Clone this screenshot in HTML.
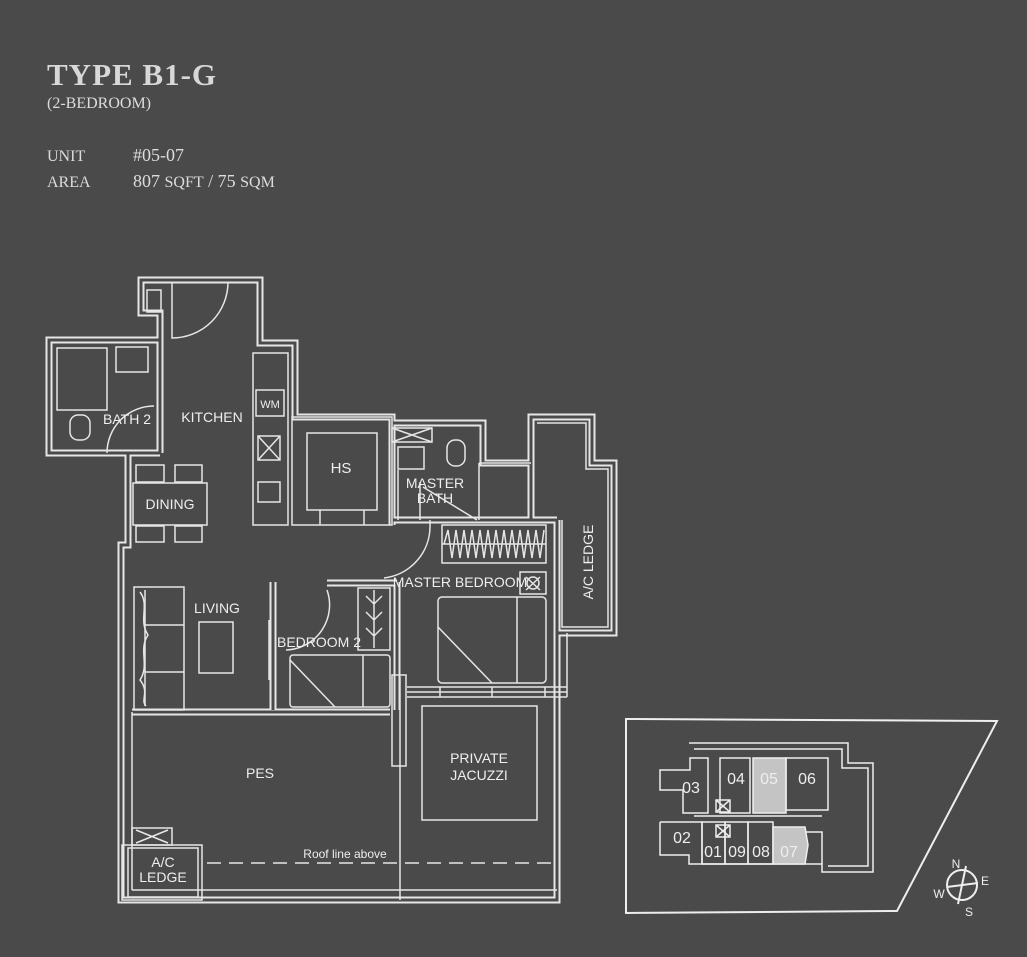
<!DOCTYPE html>
<html><head><meta charset="utf-8"><style>
html,body{margin:0;padding:0;background:#4a4a4a;}
body{width:1027px;height:957px;overflow:hidden;position:relative;}
.t{position:absolute;color:#dcdcdc;font-family:"Liberation Serif",serif;white-space:nowrap;}
svg{position:absolute;left:0;top:0;}
svg text{font-family:"Liberation Sans Narrow","Liberation Sans",sans-serif;fill:#eee;}
</style></head><body>
<div class="t" style="left:47px;top:57px;font-size:31px;letter-spacing:1px;font-weight:bold;color:#d8d8d8;">TYPE B1-G</div>
<div class="t" style="left:47px;top:95px;font-size:16px;">(2-BEDROOM)</div>
<div class="t" style="left:47px;top:148px;font-size:16px;">UNIT</div>
<div class="t" style="left:133px;top:145px;font-size:18px;">#05-07</div>
<div class="t" style="left:47px;top:174px;font-size:16px;">AREA</div>
<div class="t" style="left:133px;top:171px;font-size:18px;">807 <span style="font-size:16px">SQFT</span> / 75 <span style="font-size:16px">SQM</span></div>

<svg width="1027" height="957" viewBox="0 0 1027 957">
<g fill="none" stroke-linejoin="miter">
<g stroke="#e6e6e6" stroke-width="7">
 <path d="M141,280 L260,280 L260,343 L295,343 L295,417 L392,417 L392,423 L483,423 L483,463 L531,463 L531,417 L592,417 L592,463 L614,463 L614,633 L557,633 L557,900 L121,900 L121,545 L128,545 L128,453 L49,453 L49,340 L160,340 L160,313 L141,313 Z"/>
 <path d="M160,340 L160,453 M128,453 L160,453"/>
 <path d="M557,633 L557,520 M392,520 L557,520 M392,417 L392,525"/>
 <path d="M273,582 L273,710 M397,582 L397,710 M327,583 L397,583"/>
 <path d="M132,712 L390,712"/>
 <path d="M531,463 L531,520"/>
</g>
<g stroke="#4a4a4a" stroke-width="3">
 <path d="M141,280 L260,280 L260,343 L295,343 L295,417 L392,417 L392,423 L483,423 L483,463 L531,463 L531,417 L592,417 L592,463 L614,463 L614,633 L557,633 L557,900 L121,900 L121,545 L128,545 L128,453 L49,453 L49,340 L160,340 L160,313 L141,313 Z"/>
 <path d="M160,340 L160,453 M128,453 L160,453"/>
 <path d="M557,633 L557,520 M392,520 L557,520 M392,417 L392,525"/>
 <path d="M273,582 L273,710 M397,582 L397,710 M327,583 L397,583"/>
 <path d="M132,712 L390,712"/>
 <path d="M531,463 L531,520"/>
</g>
<g stroke="#e6e6e6" stroke-width="1.5">
 <rect x="147" y="290" width="14" height="22"/>
 <rect x="57" y="348" width="50" height="62"/>
 <rect x="116" y="347" width="32" height="25"/>
 <rect x="70" y="415" width="20" height="25" rx="8"/>
 <path d="M107,453 A47,47 0 0 1 154,406"/>
 <path d="M172,282 L172,338 A56,56 0 0 0 228,282"/>
 <rect x="253" y="353" width="35" height="172"/>
 <rect x="256" y="390" width="28" height="26"/>
 <rect x="258" y="436" width="22" height="24"/>
 <path d="M258,436 L280,460 M280,436 L258,460"/>
 <rect x="258" y="482" width="22" height="20"/>
 <rect x="292" y="417" width="100" height="108"/>
 <rect x="307" y="433" width="70" height="77"/>
 <path d="M320,510 L320,525 M364,510 L364,525"/>
 <rect x="392" y="428" width="40" height="14"/>
 <path d="M392,428 L432,442 M432,428 L392,442"/>
 <rect x="398" y="447" width="26" height="22"/>
 <rect x="447" y="440" width="18" height="26" rx="8"/>
 <path d="M398,470 L398,520 M479,463 L479,520 M479,463 L531,463"/>
 <path d="M420,520 L420,482 M423,487 L477,520"/>
 <path d="M384,578 A52,52 0 0 0 430,526 L430,520"/>
 <rect x="442" y="525" width="104" height="38"/>
 <path d="M444,544 L448,530 L452,558 L456,530 L460,558 L464,530 L468,558 L472,530 L476,558 L480,530 L484,558 L488,530 L492,558 L496,530 L500,558 L504,530 L508,558 L512,530 L516,558 L520,530 L524,558 L528,530 L532,558 L536,530 L540,558 L544,530"/>
 <path d="M442,544 L546,544"/>
 <rect x="520" y="572" width="26" height="22"/>
 <path d="M526,577 L540,590 M540,577 L526,590"/>
 <circle cx="533" cy="583" r="6"/>
 <rect x="438" y="597" width="108" height="86" rx="4"/>
 <path d="M517,597 L517,683 M438,627 L492,683"/>
 <path d="M407,687 L567,687 M407,692 L567,692 M407,697 L567,697 M440,687 L440,697 M492,687 L492,697 M545,687 L545,697 M567,633 L567,697"/>
 <path d="M286,650 A45,45 0 0 0 327,590"/>
 <rect x="358" y="588" width="32" height="62"/>
 <path d="M374,590 L374,648 M366,596 L374,604 L382,596 M366,612 L374,620 L382,612 M366,628 L374,636 L382,628"/>
 <rect x="290" y="655" width="100" height="52" rx="3"/>
 <path d="M363,655 L363,707 M290,660 L335,707"/>
 <path d="M269,620 L269,680"/>
 <rect x="392" y="675" width="14" height="91"/>
 <rect x="134" y="587" width="50" height="123"/>
 <path d="M145,590 L145,706 M145,625 L184,625 M145,672 L184,672"/>
 <path d="M140,592 C150,605 138,620 148,635 C138,650 150,665 140,680 C150,692 140,700 146,706"/>
 <rect x="199" y="622" width="34" height="51"/>
 <rect x="133" y="483" width="74" height="42"/>
 <rect x="136" y="465" width="28" height="17"/><rect x="175" y="465" width="27" height="17"/>
 <rect x="136" y="526" width="28" height="16"/><rect x="175" y="526" width="27" height="16"/>
 <path d="M400,677 L400,900 M132,712 L132,890 M132,890 L557,890"/>
 <rect x="422" y="706" width="115" height="114"/>
 <rect x="132" y="828" width="40" height="17"/>
 <path d="M136,830 L168,843 M168,830 L136,843"/>
 <rect x="122" y="845" width="80" height="55"/>
 <rect x="128" y="848" width="70" height="49"/>
 <path d="M207,863 L558,863" stroke-dasharray="14,8"/>
 <path d="M537,423 L586,423 L586,469 L608,469 L608,627 L562,627 L562,520"/>
</g>
<g font-size="14" text-anchor="middle">
 <text x="127" y="424">BATH 2</text>
 <text x="212" y="422">KITCHEN</text>
 <text x="341" y="473" font-size="15">HS</text>
 <text x="170" y="509">DINING</text>
 <text x="217" y="613">LIVING</text>
 <text x="319" y="647">BEDROOM 2</text>
 <text x="460" y="587">MASTER BEDROOM</text>
 <text x="435" y="488">MASTER</text>
 <text x="435" y="503">BATH</text>
 <text x="260" y="778">PES</text>
 <text x="479" y="763">PRIVATE</text>
 <text x="479" y="780">JACUZZI</text>
 <text x="163" y="867">A/C</text>
 <text x="163" y="882">LEDGE</text>
 <text x="345" y="858" font-size="12">Roof line above</text>
 <text transform="translate(593,562) rotate(-90)">A/C LEDGE</text>
 <text x="270" y="408" font-size="11">WM</text>
</g>

<g stroke="#eee" stroke-width="2">
 <path d="M626,719 L997,721 L897,911 L626,913 Z"/>
</g>
<g stroke="#eee" stroke-width="1.5">
 <path d="M689,743 L848,743 L848,763 L873,763 L873,872 L822,872 L822,864 L689,864 L689,855 L660,855 L660,822"/>
 <path d="M694,749 L842,749 L842,768 L868,768 L868,866 L828,866"/>
 <rect x="720" y="758" width="30" height="55"/>
 <path d="M753,758 L786,758 L786,813 L753,813 Z" fill="#c4c4c4"/>
 <rect x="786" y="758" width="42" height="52"/>
 <path d="M690,758 L708,758 L708,813 L683,813 L683,790 L660,790 L660,770 L690,770 Z"/>
 <path d="M660,822 L702,822 L702,864"/>
 <rect x="702" y="822" width="23" height="42"/>
 <rect x="725" y="822" width="23" height="42"/>
 <rect x="748" y="822" width="25" height="42"/>
 <path d="M773,827 L805,827 L808,845 L805,864 L773,864 Z" fill="#c4c4c4"/>
 <path d="M694,816 L822,816 M805,832 L822,832 L822,864"/>
 <rect x="716" y="800" width="14" height="12"/><path d="M716,800 L730,812 M730,800 L716,812"/>
 <rect x="716" y="825" width="14" height="12"/><path d="M716,825 L730,837 M730,825 L716,837"/>
</g>
<g font-size="16" text-anchor="middle">
 <text x="691" y="793">03</text><text x="736" y="784">04</text>
 <text x="769" y="784" fill="#555">05</text><text x="807" y="784">06</text>
 <text x="682" y="843">02</text><text x="713" y="857">01</text>
 <text x="737" y="857">09</text><text x="761" y="857">08</text>
 <text x="789" y="857" fill="#555">07</text>
</g>
<g stroke="#eee" stroke-width="2">
 <circle cx="962" cy="885" r="15"/>
 <path d="M966,866 L958,904 M947,887 L978,883"/>
</g>
<g font-size="12" text-anchor="middle">
 <text x="956" y="868">N</text><text x="985" y="885">E</text>
 <text x="939" y="898">W</text><text x="969" y="916">S</text>
</g>
</g>
</svg>
</body></html>
